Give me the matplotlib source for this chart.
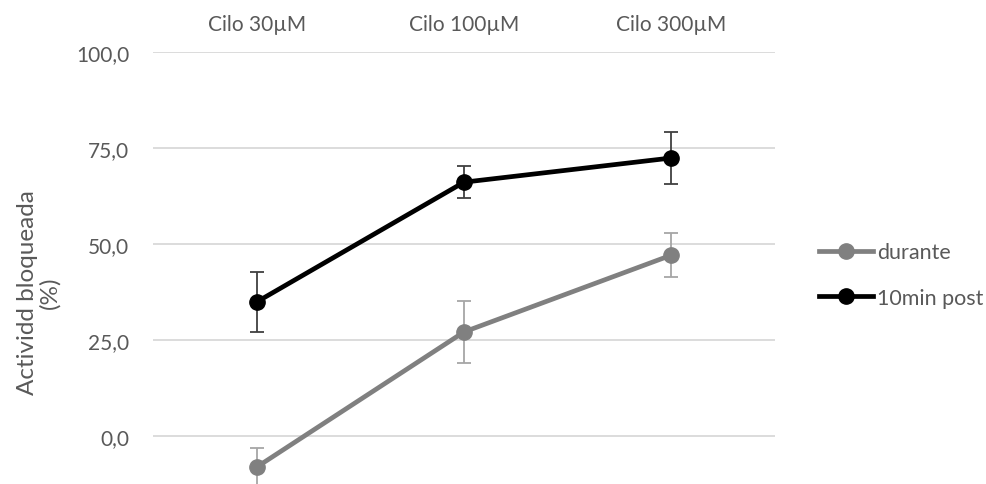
import numpy as np
import matplotlib
matplotlib.use('Agg')
import matplotlib.pyplot as plt

plt.rcParams['font.family'] = ['Lato', 'DejaVu Sans']

categories = ['Cilo 30µM', 'Cilo 100µM', 'Cilo 300µM']
durante = [-8.1, 27.1, 47.1]
durante_err = [5.0, 8.0, 5.7]
post = [34.9, 66.1, 72.4]
post_err = [7.9, 4.2, 6.8]

fig = plt.figure(figsize=(9.87, 4.85), dpi=100)
ax = fig.add_axes([153/987, 0, 622/987, 432/485])

x = np.arange(len(categories))

# error bars first, then lines with markers on top
ax.errorbar(x, durante, yerr=durante_err, fmt='none', ecolor='#a6a6a6',
            elinewidth=1.3, capsize=5, capthick=1.3, zorder=2)
ax.errorbar(x, post, yerr=post_err, fmt='none', ecolor='#404040',
            elinewidth=1.3, capsize=5, capthick=1.3, zorder=2)
ax.plot(x, durante, '-o', color='#808080', lw=3.4, ms=11, label='durante', zorder=3)
ax.plot(x, post, '-o', color='black', lw=3.4, ms=11, label='10min post', zorder=3)

ax.set_xlim(-0.5, 2.5)
ax.set_ylim(-12.5, 100)
ax.set_yticks([0, 25, 50, 75, 100])
ax.set_yticklabels(['0,0', '25,0', '50,0', '75,0', '100,0'])
ax.set_xticks(x)
ax.set_xticklabels(categories)
ax.xaxis.tick_top()
ax.tick_params(axis='both', length=0, labelsize=15, colors='#595959')
ax.tick_params(axis='x', pad=13)
ax.tick_params(axis='y', pad=17)
ax.grid(axis='y', color='#d9d9d9', lw=1.3)
ax.set_axisbelow(True)
for s in ax.spines.values():
    s.set_visible(False)

fig.text(0.039, 0.396, 'Actividd bloqueada\n(%)', rotation=90, ha='center',
         va='center', multialignment='center', fontsize=17.5, color='#595959',
         linespacing=1.05)

leg = fig.legend(loc='center left', bbox_to_anchor=(800/987, 1 - 276/485),
                 frameon=False, fontsize=15.5, labelspacing=1.2, handlelength=2.5,
                 handletextpad=0.2)
for t in leg.get_texts():
    t.set_color('#595959')

fig.savefig('out.png', dpi=100)
